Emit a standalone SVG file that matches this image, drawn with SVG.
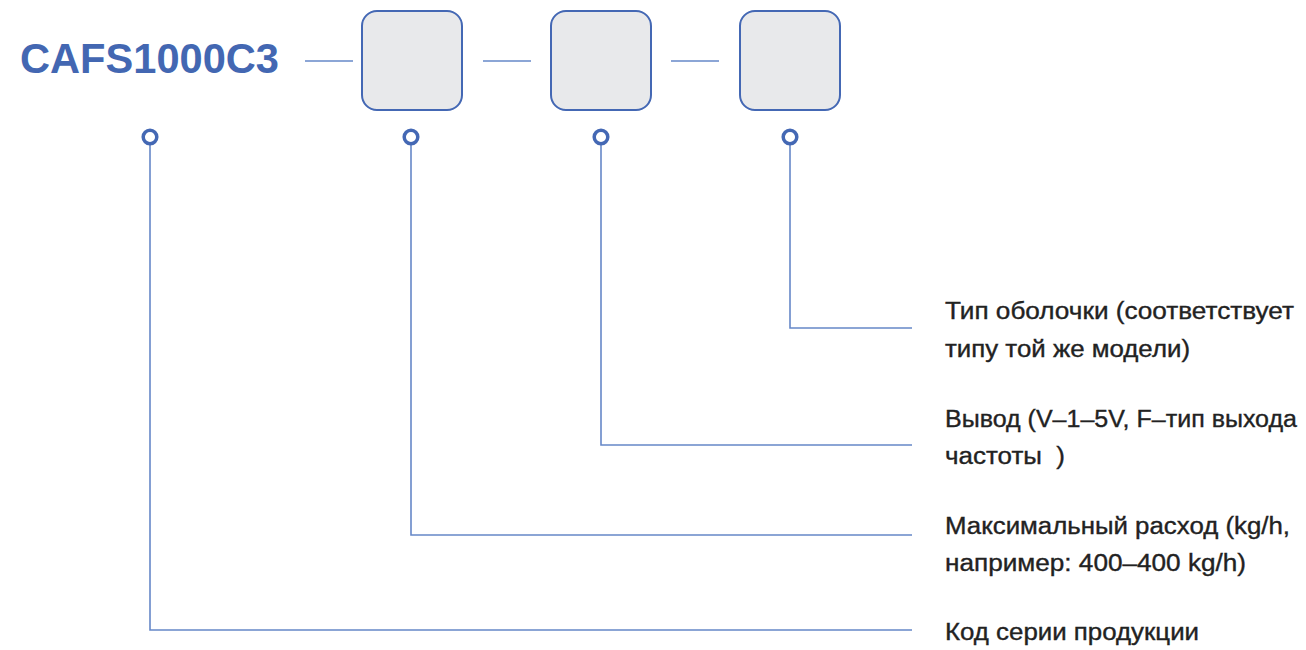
<svg xmlns="http://www.w3.org/2000/svg" width="1306" height="650" viewBox="0 0 1306 650">
<style>
.title{font-family:"Liberation Sans",Arial,sans-serif;font-weight:bold;font-size:42px;fill:#4367b2}
.box{fill:#e8e9eb;stroke:#4468b4;stroke-width:2}
.dot{fill:#fff;stroke:#4468b4;stroke-width:3.5}
.ln{fill:none;stroke:#6688c8;stroke-width:1.6}
.lbl{font-family:"Liberation Sans",Arial,sans-serif;font-size:23px;fill:#222;stroke:#222;stroke-width:0.35;white-space:pre}
</style>
<rect width="1306" height="650" fill="#fff"/>
<g id="title"><text class="title" x="20" y="73" textLength="259" lengthAdjust="spacingAndGlyphs">CAFS1000C3</text></g>
<g id="connectors">
<line class="ln" x1="305" y1="61" x2="353" y2="61"/>
<line class="ln" x1="483" y1="61" x2="531" y2="61"/>
<line class="ln" x1="671" y1="61" x2="719" y2="61"/>
<polyline class="ln" points="150,144 150,630 912,630"/>
<polyline class="ln" points="411,144 411,535 912,535"/>
<polyline class="ln" points="601,144 601,445 912,445"/>
<polyline class="ln" points="790,144 790,328 912,328"/>
</g>
<g id="box1"><rect class="box" x="362" y="11" width="100" height="99" rx="15"/></g>
<g id="box2"><rect class="box" x="551" y="11" width="100" height="99" rx="15"/></g>
<g id="box3"><rect class="box" x="740" y="11" width="100" height="99" rx="15"/></g>
<g id="dot1"><circle class="dot" cx="150" cy="137" r="6.8"/></g>
<g id="dot2"><circle class="dot" cx="411" cy="137" r="6.8"/></g>
<g id="dot3"><circle class="dot" cx="601" cy="137" r="6.8"/></g>
<g id="dot4"><circle class="dot" cx="790" cy="137" r="6.8"/></g>
<g id="label4"><text class="lbl" x="945" y="319" textLength="349" lengthAdjust="spacingAndGlyphs">Тип оболочки (соответствует</text><text class="lbl" x="945" y="357" textLength="245" lengthAdjust="spacingAndGlyphs">типу той же модели)</text></g>
<g id="label3"><text class="lbl" x="945" y="427" textLength="352" lengthAdjust="spacingAndGlyphs">Вывод (V–1–5V, F–тип выхода</text><text class="lbl" x="945" y="464" textLength="120" lengthAdjust="spacingAndGlyphs" xml:space="preserve">частоты  )</text></g>
<g id="label2"><text class="lbl" x="945" y="534" textLength="345" lengthAdjust="spacingAndGlyphs">Максимальный расход (kg/h,</text><text class="lbl" x="945" y="571" textLength="301" lengthAdjust="spacingAndGlyphs">например: 400–400 kg/h)</text></g>
<g id="label1"><text class="lbl" x="945" y="640" textLength="254" lengthAdjust="spacingAndGlyphs">Код серии продукции</text></g>
</svg>
